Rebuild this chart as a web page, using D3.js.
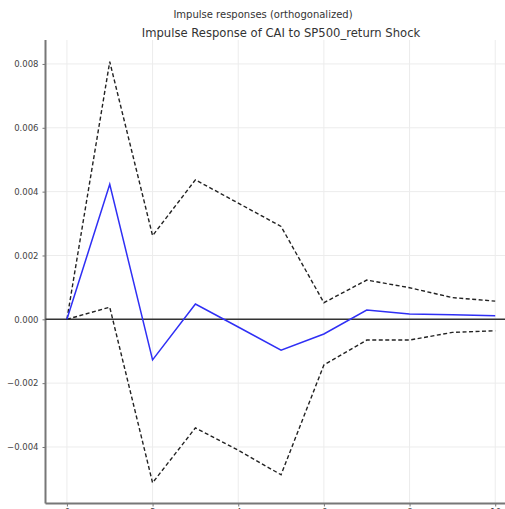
<!DOCTYPE html>
<html>
<head>
<meta charset="utf-8">
<script src="https://cdn.jsdelivr.net/npm/d3@7"></script>
<style>
  html, body { margin: 0; padding: 0; background: #fff; }
  svg { display: block; font-family: "DejaVu Sans", sans-serif; }
</style>
</head>
<body>
<div id="chart"></div>
<script>
// periods after the shock
const periods = [0, 1, 2, 3, 4, 5, 6, 7, 8, 9, 10];
// orthogonalized response of CAI to SP500_return
const response = [0, 0.00423, -0.00127, 0.00048, -0.00024, -0.00097, -0.00046, 0.00029, 0.00017, 0.00014, 0.00011];
const upperBand = [0, 0.00807, 0.00262, 0.00437, 0.00364, 0.00291, 0.00052, 0.00123, 0.00099, 0.00068, 0.00057];
const lowerBand = [0, 0.00038, -0.00512, -0.00340, -0.00410, -0.00487, -0.00143, -0.00065, -0.00065, -0.00041, -0.00036];
const xTicks = [0, 2, 4, 6, 8, 10];
const yTicks = [-0.004, -0.002, 0, 0.002, 0.004, 0.006, 0.008];

const width = 505, height = 509;
const plotLeft = 45.5, plotTop = 40, plotBottom = 503.5;

const svg = d3.select("#chart")
    .append("svg")
    .attr("width", width)
    .attr("height", height);

const x = d3.scaleLinear().domain([-0.5, 10.5]).range([plotLeft, plotLeft + 11 * 42.83]);
const y = d3.scaleLinear().domain([-0.00577, 0.00875]).range([plotBottom, plotTop]);

// grid
svg.append("g").selectAll("line")
    .data(xTicks)
    .enter().append("line")
    .attr("x1", d => x(d)).attr("x2", d => x(d))
    .attr("y1", plotTop).attr("y2", plotBottom)
    .attr("stroke", "#ececec").attr("stroke-width", 1);
svg.append("g").selectAll("line")
    .data(yTicks)
    .enter().append("line")
    .attr("x1", plotLeft).attr("x2", width)
    .attr("y1", d => y(d)).attr("y2", d => y(d))
    .attr("stroke", "#ececec").attr("stroke-width", 1);

// axes
const yAxis = svg.append("g")
    .attr("transform", `translate(${plotLeft},0)`)
    .call(d3.axisLeft(y).tickValues(yTicks).tickSize(3).tickPadding(4)
        .tickFormat(d => d3.format(".3f")(d).replace("-", "\u2212")));
const xAxis = svg.append("g")
    .attr("transform", `translate(0,${plotBottom})`)
    .call(d3.axisBottom(x).tickValues(xTicks).tickSize(3).tickPadding(2));
[yAxis, xAxis].forEach(g => {
    g.select(".domain").attr("stroke", "#777").attr("stroke-width", 2);
    g.selectAll(".tick line").attr("stroke", "#777");
    g.selectAll("text").attr("fill", "#444").attr("font-size", "8.5px")
        .attr("font-family", "DejaVu Sans, sans-serif");
});
yAxis.select(".domain").attr("d", `M0,${plotTop}V${plotBottom}`);
xAxis.select(".domain").attr("d", `M${plotLeft},0H${width}`);

// zero line
svg.append("line")
    .attr("x1", plotLeft).attr("x2", width)
    .attr("y1", y(0)).attr("y2", y(0))
    .attr("stroke", "#333").attr("stroke-width", 1.5);

const line = d3.line()
    .x((d, i) => x(periods[i]))
    .y(d => y(d));

[upperBand, lowerBand].forEach(band => {
    svg.append("path")
        .datum(band)
        .attr("fill", "none")
        .attr("stroke", "#222")
        .attr("stroke-width", 1.4)
        .attr("stroke-dasharray", "4,2.5")
        .attr("d", line);
});

svg.append("path")
    .datum(response)
    .attr("fill", "none")
    .attr("stroke", "#2f2ff5")
    .attr("stroke-width", 1.5)
    .attr("d", line);

// titles
svg.append("text")
    .attr("x", 263)
    .attr("y", 18)
    .attr("text-anchor", "middle")
    .attr("font-size", "10px")
    .attr("fill", "#333")
    .text("Impulse responses (orthogonalized)");
svg.append("text")
    .attr("x", 281)
    .attr("y", 37)
    .attr("text-anchor", "middle")
    .attr("font-size", "11.6px")
    .attr("fill", "#333")
    .text("Impulse Response of CAI to SP500_return Shock");
</script>
</body>
</html>
